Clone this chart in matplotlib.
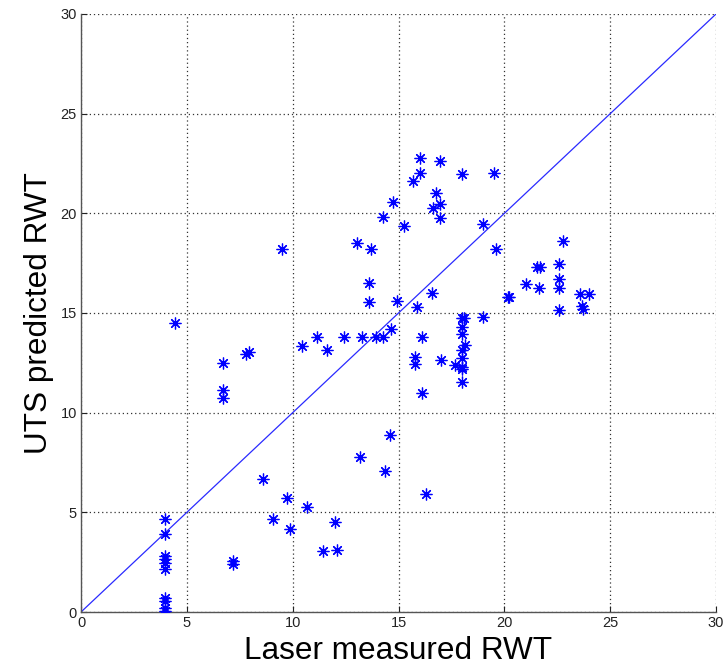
import matplotlib
matplotlib.use("Agg")
import matplotlib.pyplot as plt
import numpy as np

laser_rwt = [
    3.98, 3.98, 3.98, 3.98, 3.98, 3.98, 3.98, 3.98, 3.98, 3.98,
    7.19, 7.19, 8.61, 9.08, 9.75, 10.69, 9.87, 12.0, 11.45, 12.11,
    13.18, 14.60, 14.36, 16.30,
    4.44, 6.69, 6.69, 6.69, 7.79, 7.95, 9.48,
    10.43, 11.13, 11.61, 12.44, 13.26, 13.93, 14.28, 14.63,
    13.02, 13.68, 13.62, 13.62, 14.94, 14.25, 14.72, 15.26,
    15.70, 16.01, 16.01, 16.96, 16.77, 16.64, 16.96, 16.96,
    17.98, 19.52, 18.98, 19.60, 16.57, 15.86, 16.09, 15.79, 15.79,
    16.09, 17.01, 17.67,
    17.98, 18.10, 17.98, 17.98, 18.14, 17.98, 17.98, 17.98, 17.98, 17.98,
    18.98, 20.18,
    22.78, 21.55, 21.68, 22.57, 22.57, 22.57, 21.65, 21.02, 20.22,
    22.57, 23.57, 24.0, 23.65, 23.73,
]
uts_rwt = [
    4.67, 3.91, 2.83, 2.64, 2.44, 2.16, 0.72, 0.55, 0.18, 0.07,
    2.58, 2.41, 6.67, 4.65, 5.70, 5.25, 4.16, 4.53, 3.06, 3.11,
    7.79, 8.88, 7.07, 5.90,
    14.50, 12.48, 11.14, 10.72, 12.95, 13.06, 18.20,
    13.33, 13.78, 13.15, 13.78, 13.78, 13.78, 13.78, 14.20,
    18.50, 18.21, 16.52, 15.57, 15.62, 19.80, 20.59, 19.37,
    21.63, 22.01, 22.76, 22.60, 21.00, 20.29, 20.47, 19.75,
    21.96, 22.01, 19.45, 18.21, 15.99, 15.29, 13.78, 12.78, 12.43,
    11.00, 12.64, 12.39,
    14.73, 14.73, 14.28, 13.95, 13.40, 13.15, 12.73, 12.31, 12.18, 11.56,
    14.82, 15.82,
    18.63, 17.33, 17.33, 17.48, 16.72, 16.24, 16.24, 16.47, 15.82,
    15.15, 15.94, 15.94, 15.35, 15.19,
]
line_x = [0, 30]
line_y = [0, 30]
ticks = [0, 5, 10, 15, 20, 25, 30]

plt.rcParams['font.family'] = ['Liberation Sans', 'DejaVu Sans']

fig = plt.figure(figsize=(7.26, 6.69), dpi=100)
ax = fig.add_axes([0.1116, 0.0852, 0.8747, 0.8939])

ax.plot(line_x, line_y, color='#2a2aff', lw=0.9, zorder=2)
ax.plot(laser_rwt, uts_rwt, linestyle='none', marker=(8, 2, 0),
        markersize=8.5, markeredgewidth=0.9, color='#0000ff', zorder=3)
ax.plot(laser_rwt, uts_rwt, linestyle='none', marker='o',
        markersize=2.5, markeredgewidth=0, color='#0000ff', zorder=3)

ax.set_xlim(0, 30)
ax.set_ylim(0, 30)
ax.set_xticks(ticks)
ax.set_yticks(ticks)
ax.grid(True, linestyle=(0, (1, 2.3)), color='#333333', linewidth=0.9)
ax.set_axisbelow(True)
for s in ['top', 'right']:
    ax.spines[s].set_visible(False)
for s in ['left', 'bottom']:
    ax.spines[s].set_color('#555555')
    ax.spines[s].set_linewidth(1.0)
ax.tick_params(direction='in', length=4, labelsize=10.5, colors='#222222', pad=3)

ax.set_xlabel('Laser measured RWT', fontsize=22.7, labelpad=4)
ax.set_ylabel('UTS predicted RWT', fontsize=22.7, labelpad=5)

fig.savefig('out.png', dpi=100)
